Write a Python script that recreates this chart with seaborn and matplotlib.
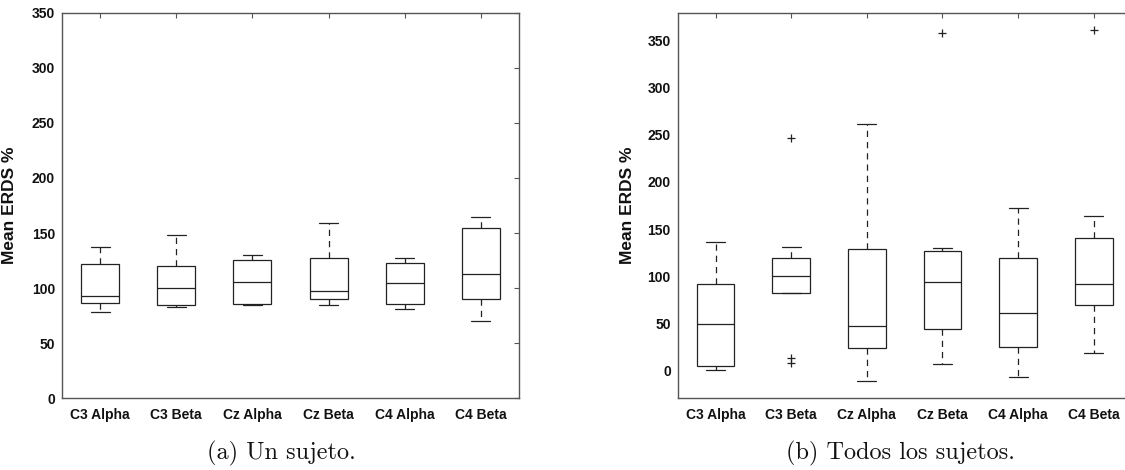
import numpy as np
import pandas as pd
import matplotlib
matplotlib.use("Agg")
import matplotlib.pyplot as plt
import seaborn as sns

# ---------------- data ----------------
categories = ["C3 Alpha", "C3 Beta", "Cz Alpha", "Cz Beta", "C4 Alpha", "C4 Beta"]

# (a) Un sujeto
a_low = [78.1, 82.7, 84.7, 84.3, 81.4, 70.3]
a_q1 = [86.3, 84.7, 85.3, 90.5, 85.6, 89.9]
a_med = [93.1, 100.6, 105.8, 97.0, 104.9, 113.0]
a_q3 = [121.5, 119.8, 126.0, 127.6, 122.4, 155.0]
a_high = [137.4, 147.8, 130.2, 159.2, 127.6, 164.8]
a_out = [[], [], [], [], [], []]

# (b) Todos los sujetos
b_low = [0.4, 82.2, -11.4, 6.5, -7.2, 18.3]
b_q1 = [4.6, 82.2, 24.0, 44.1, 24.7, 69.2]
b_med = [49.0, 99.7, 46.8, 93.2, 60.5, 92.0]
b_q3 = [92.0, 119.0, 129.0, 127.0, 119.0, 140.4]
b_high = [136.2, 131.2, 262.0, 129.7, 172.0, 163.6]
b_out = [[], [7.6, 12.6, 247.2], [], [358.3], [], [361.0]]

yticks = [0, 50, 100, 150, 200, 250, 300, 350]
captions = ["(a) Un sujeto.", "(b) Todos los sujetos."]
ylabel = "Mean ERDS %"


def samples(lo, q1, med, q3, hi, out):
    """Sample set whose linear quartiles / whiskers equal the read statistics."""
    lo_out = sorted(v for v in out if v < lo)
    hi_out = sorted(v for v in out if v > hi)
    m = max(len(lo_out), len(hi_out)) + 1
    return (lo_out + [lo] + [q1] * (m - len(lo_out)) + [med] * m + [q3] * m
            + [hi] * (m - len(hi_out)) + hi_out)


def frame(lo, q1, med, q3, hi, out):
    rows = []
    for i, c in enumerate(categories):
        for v in samples(lo[i], q1[i], med[i], q3[i], hi[i], out[i]):
            rows.append({"cat": c, "val": v})
    return pd.DataFrame(rows)


df_a = frame(a_low, a_q1, a_med, a_q3, a_high, a_out)
df_b = frame(b_low, b_q1, b_med, b_q3, b_high, b_out)

# ---------------- style ----------------
sns.set_theme(style="white")
plt.rcParams["font.family"] = ["Liberation Sans", "DejaVu Sans"]

W, H = 1125, 470
fig = plt.figure(figsize=(W / 100, H / 100), dpi=100)
fig.patch.set_facecolor("white")

spine_col = "#555555"
line_col = "#222222"

axes_px = [(62, 519, (0, 350), -0.098), (677.7, 1131.5, (-30, 380), -0.0948)]
top_px, bot_px = 12.6, 398.4

for k, (df, (x0, x1, ylim, labx)) in enumerate(zip([df_a, df_b], axes_px)):
    ax = fig.add_axes([x0 / W, (H - bot_px) / H, (x1 - x0) / W, (bot_px - top_px) / H])
    sns.boxplot(
        data=df, x="cat", y="val", order=categories, ax=ax,
        color="white", linecolor=line_col, linewidth=0.9, width=0.5, whis=1.5,
        whiskerprops={"linestyle": (0, (5, 4))},
        flierprops={"marker": "+", "markersize": 6, "markeredgewidth": 0.9,
                    "markeredgecolor": line_col},
    )
    ax.set_xlim(-0.5, 5.5)
    ax.set_ylim(*ylim)
    ax.set_yticks(yticks)
    ax.set_xlabel("")
    ax.set_ylabel(ylabel, fontsize=12.5, fontweight="bold", color="#111111")
    ax.yaxis.set_label_coords(labx, 0.5)
    for s in ax.spines.values():
        s.set_visible(True)
        s.set_color(spine_col)
        s.set_linewidth(1.0)
    ax.tick_params(direction="in", top=True, right=True, length=3.5, width=0.8,
                   color=spine_col, labelsize=10, labelcolor="#111111")
    ax.tick_params(axis="x", pad=7)
    ax.tick_params(axis="y", pad=5)
    for lab in ax.get_xticklabels() + ax.get_yticklabels():
        lab.set_fontweight("bold")
    ax.set_facecolor("white")
    ax.grid(False)

fig.text(281 / W, 1 - 453 / H, captions[0], family="cmr10", fontsize=17.5,
         ha="center", va="center", color="#111111")
fig.text(900 / W, 1 - 453 / H, captions[1], family="cmr10", fontsize=17.5,
         ha="center", va="center", color="#111111")

fig.savefig("out.png", dpi=100, facecolor="white")
